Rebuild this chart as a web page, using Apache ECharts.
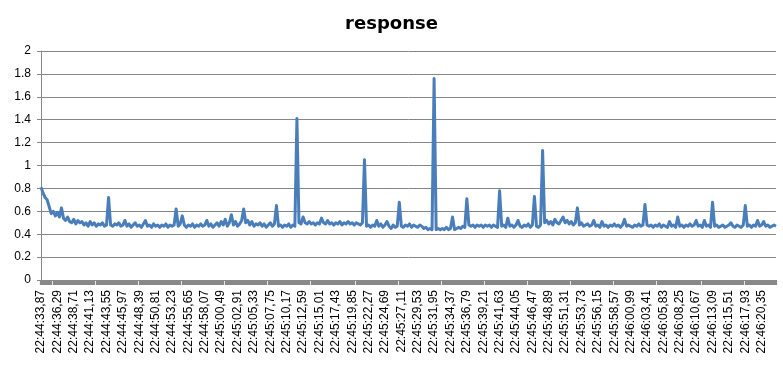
<!DOCTYPE html>
<html>
<head>
<meta charset="utf-8">
<script src="https://cdn.jsdelivr.net/npm/echarts@6/dist/echarts.min.js"></script>
<style>html,body{margin:0;padding:0;background:#fff}#c{width:783px;height:365px}</style>
</head>
<body>
<div id="c"></div>
<script>
// start time in centiseconds (22:44:33,87) and sample step (label every 8 samples = 2.42 s)
var startCs = 8187387;
var stepCs = 30.25;
var labelEvery = 8;
var yTicks = [0, 0.2, 0.4, 0.6, 0.8, 1, 1.2, 1.4, 1.6, 1.8, 2];

var response = [
0.81,0.76,0.72,0.70,0.64,0.58,0.60,0.56,0.59,0.55,0.63,0.54,0.52,0.55,0.51,0.50,0.53,0.49,0.52,0.50,
0.51,0.48,0.50,0.47,0.51,0.48,0.50,0.47,0.49,0.48,0.50,0.47,0.48,0.72,0.48,0.47,0.49,0.48,0.50,0.47,
0.48,0.52,0.47,0.49,0.46,0.48,0.50,0.47,0.48,0.46,0.49,0.52,0.47,0.48,0.46,0.49,0.47,0.48,0.46,0.48,
0.47,0.49,0.46,0.48,0.47,0.48,0.62,0.47,0.49,0.56,0.48,0.46,0.48,0.47,0.49,0.46,0.48,0.47,0.49,0.47,
0.48,0.52,0.47,0.49,0.46,0.48,0.50,0.47,0.51,0.48,0.53,0.47,0.50,0.57,0.48,0.51,0.47,0.49,0.52,0.62,
0.50,0.52,0.48,0.51,0.47,0.49,0.48,0.50,0.47,0.49,0.46,0.48,0.50,0.47,0.49,0.65,0.47,0.48,0.46,0.48,
0.47,0.49,0.46,0.48,0.47,1.41,0.50,0.49,0.55,0.50,0.49,0.51,0.49,0.50,0.48,0.50,0.49,0.54,0.50,0.49,
0.52,0.49,0.50,0.48,0.50,0.49,0.51,0.48,0.50,0.49,0.51,0.49,0.50,0.48,0.50,0.49,0.48,0.50,1.05,0.47,
0.48,0.46,0.48,0.47,0.52,0.47,0.49,0.46,0.48,0.51,0.47,0.45,0.48,0.46,0.47,0.68,0.47,0.46,0.48,0.47,
0.49,0.46,0.48,0.47,0.46,0.48,0.47,0.45,0.46,0.44,0.45,0.44,1.76,0.44,0.45,0.44,0.45,0.44,0.46,0.44,
0.45,0.55,0.44,0.45,0.46,0.45,0.47,0.46,0.71,0.48,0.47,0.48,0.46,0.48,0.47,0.48,0.46,0.48,0.47,0.48,
0.46,0.48,0.47,0.46,0.78,0.47,0.48,0.46,0.54,0.47,0.48,0.46,0.48,0.52,0.47,0.46,0.48,0.47,0.49,0.46,
0.48,0.73,0.47,0.46,0.48,1.13,0.50,0.52,0.49,0.51,0.48,0.53,0.50,0.49,0.52,0.55,0.50,0.52,0.49,0.51,
0.48,0.50,0.63,0.48,0.50,0.47,0.48,0.49,0.47,0.48,0.52,0.47,0.48,0.46,0.51,0.47,0.48,0.46,0.48,0.47,
0.49,0.47,0.48,0.46,0.48,0.53,0.47,0.48,0.47,0.46,0.48,0.47,0.49,0.47,0.48,0.66,0.48,0.47,0.48,0.46,
0.48,0.47,0.49,0.46,0.48,0.47,0.46,0.51,0.47,0.48,0.46,0.55,0.47,0.48,0.46,0.48,0.47,0.49,0.47,0.48,
0.52,0.47,0.48,0.46,0.52,0.47,0.48,0.46,0.68,0.47,0.48,0.46,0.47,0.48,0.46,0.47,0.48,0.50,0.47,0.46,
0.48,0.47,0.46,0.48,0.65,0.47,0.48,0.46,0.48,0.47,0.52,0.47,0.48,0.51,0.47,0.48,0.46,0.47,0.48,0.47
];

function pad(n){ return (n < 10 ? '0' : '') + n; }
function fmt(cs){
  var h = Math.floor(cs / 360000); cs -= h * 360000;
  var m = Math.floor(cs / 6000); cs -= m * 6000;
  var s = Math.floor(cs / 100); var c = cs - s * 100;
  return pad(h) + ':' + pad(m) + ':' + pad(s) + ',' + pad(c);
}
var categories = response.map(function(v, i){ return fmt(Math.round(startCs + i * stepCs)); });

var chart = echarts.init(document.getElementById('c'), null, {renderer: 'canvas'});
chart.setOption({
  animation: false,
  backgroundColor: '#fff',
  title: {
    text: 'response', left: 'center', top: 10,
    textStyle: {fontFamily: 'DejaVu Sans', fontSize: 18, fontWeight: 'bold', color: '#000'}
  },
  grid: {left: 41, right: 7, top: 51, bottom: 85, containLabel: false},
  xAxis: {
    type: 'category', data: categories, boundaryGap: false,
    axisLine: {lineStyle: {color: '#898989', width: 1}},
    axisTick: {show: true, interval: 0, length: 5, lineStyle: {color: '#898989', width: 2.2}},
    axisLabel: {interval: labelEvery - 1, rotate: 90, margin: 10, fontFamily: 'Liberation Sans', fontSize: 12, color: '#000'},
    splitLine: {show: false}
  },
  yAxis: {
    type: 'value', min: yTicks[0], max: yTicks[yTicks.length - 1], interval: 0.2,
    axisLine: {show: true, lineStyle: {color: '#868686'}},
    axisTick: {show: true, length: 4, lineStyle: {color: '#868686'}},
    axisLabel: {margin: 10, fontFamily: 'Liberation Sans', fontSize: 12, color: '#000'},
    splitLine: {lineStyle: {color: '#868686', width: 1}}
  },
  series: [{
    name: 'response', type: 'line', data: response,
    showSymbol: false, symbol: 'none', sampling: null,
    lineStyle: {color: '#4A7EBB', width: 3, join: 'round'},
    itemStyle: {color: '#4A7EBB'}
  }]
});
</script>
</body>
</html>
